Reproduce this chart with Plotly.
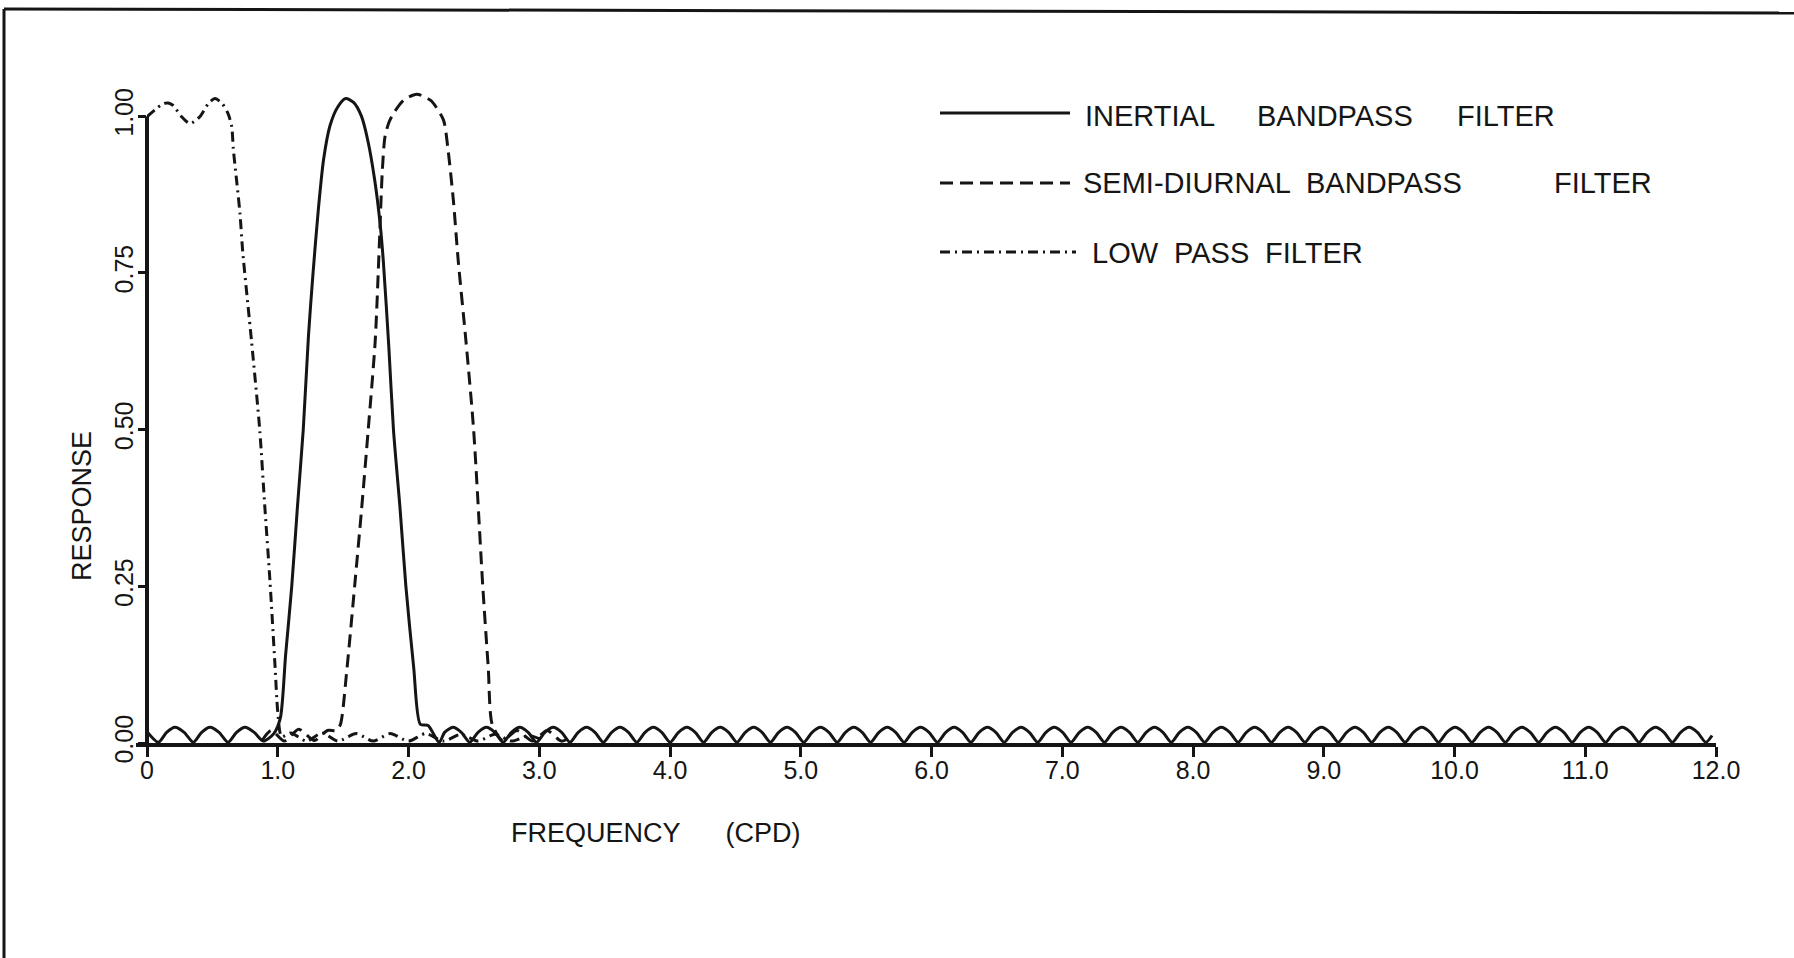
import plotly.graph_objects as go

# Filter response curves (frequency in cycles per day, response dimensionless)
inertial_freq = [
    0.0, 0.087, 0.15, 0.214, 0.284, 0.354, 0.418, 0.482, 0.551, 0.62,
    0.685, 0.75, 0.82, 0.89, 0.97, 1.02, 1.06, 1.107, 1.15, 1.195,
    1.235, 1.27, 1.31, 1.35, 1.40, 1.46, 1.52, 1.58, 1.64, 1.69,
    1.74, 1.782, 1.807, 1.85, 1.885, 1.935, 1.98, 2.04, 2.09, 2.15,
    2.235,
    2.276, 2.340, 2.404, 2.468, 2.532, 2.596, 2.660, 2.724,
    2.787, 2.851, 2.915, 2.979, 3.043, 3.107, 3.171, 3.235,
    3.298, 3.362, 3.426, 3.490, 3.554, 3.618, 3.682, 3.746,
    3.809, 3.873, 3.937, 4.001, 4.065, 4.129, 4.193, 4.257,
    4.320, 4.384, 4.448, 4.512, 4.576, 4.640, 4.704, 4.768,
    4.831, 4.895, 4.959, 5.023, 5.087, 5.151, 5.215, 5.279,
    5.342, 5.406, 5.470, 5.534, 5.598, 5.662, 5.726, 5.790,
    5.853, 5.917, 5.981, 6.045, 6.109, 6.173, 6.237, 6.301,
    6.364, 6.428, 6.492, 6.556, 6.620, 6.684, 6.748, 6.812,
    6.875, 6.939, 7.003, 7.067, 7.131, 7.195, 7.259, 7.323,
    7.386, 7.450, 7.514, 7.578, 7.642, 7.706, 7.770, 7.834,
    7.897, 7.961, 8.025, 8.089, 8.153, 8.217, 8.281, 8.345,
    8.408, 8.472, 8.536, 8.600, 8.664, 8.728, 8.792, 8.856,
    8.919, 8.983, 9.047, 9.111, 9.175, 9.239, 9.303, 9.367,
    9.430, 9.494, 9.558, 9.622, 9.686, 9.750, 9.814, 9.878,
    9.941, 10.005, 10.069, 10.133, 10.197, 10.261, 10.325, 10.389,
    10.452, 10.516, 10.580, 10.644, 10.708, 10.772, 10.836, 10.900,
    10.963, 11.027, 11.091, 11.155, 11.219, 11.283, 11.347, 11.411,
    11.474, 11.538, 11.602, 11.666, 11.730, 11.794, 11.858, 11.922,
    11.97,
]
inertial_resp = [
    0.018, 0.001, 0.017, 0.025, 0.017, 0.001, 0.017, 0.025, 0.017, 0.001,
    0.017, 0.025, 0.017, 0.003, 0.015, 0.04, 0.14, 0.25, 0.375, 0.5,
    0.65, 0.75, 0.85, 0.93, 0.985, 1.015, 1.028, 1.022, 1.0, 0.96,
    0.9, 0.83, 0.77, 0.63, 0.5, 0.375, 0.25, 0.12, 0.03, 0.028,
    0.001,
    0.017, 0.025, 0.017, 0.001, 0.017, 0.025, 0.017, 0.001,
    0.017, 0.025, 0.017, 0.001, 0.017, 0.025, 0.017, 0.001,
    0.017, 0.025, 0.017, 0.001, 0.017, 0.025, 0.017, 0.001,
    0.017, 0.025, 0.017, 0.001, 0.017, 0.025, 0.017, 0.001,
    0.017, 0.025, 0.017, 0.001, 0.017, 0.025, 0.017, 0.001,
    0.017, 0.025, 0.017, 0.001, 0.017, 0.025, 0.017, 0.001,
    0.017, 0.025, 0.017, 0.001, 0.017, 0.025, 0.017, 0.001,
    0.017, 0.025, 0.017, 0.001, 0.017, 0.025, 0.017, 0.001,
    0.017, 0.025, 0.017, 0.001, 0.017, 0.025, 0.017, 0.001,
    0.017, 0.025, 0.017, 0.001, 0.017, 0.025, 0.017, 0.001,
    0.017, 0.025, 0.017, 0.001, 0.017, 0.025, 0.017, 0.001,
    0.017, 0.025, 0.017, 0.001, 0.017, 0.025, 0.017, 0.001,
    0.017, 0.025, 0.017, 0.001, 0.017, 0.025, 0.017, 0.001,
    0.017, 0.025, 0.017, 0.001, 0.017, 0.025, 0.017, 0.001,
    0.017, 0.025, 0.017, 0.001, 0.017, 0.025, 0.017, 0.001,
    0.017, 0.025, 0.017, 0.001, 0.017, 0.025, 0.017, 0.001,
    0.017, 0.025, 0.017, 0.001, 0.017, 0.025, 0.017, 0.001,
    0.017, 0.025, 0.017, 0.001, 0.017, 0.025, 0.017, 0.001,
    0.017, 0.025, 0.017, 0.001, 0.017, 0.025, 0.017, 0.001,
    0.012,
]

semidiurnal_freq = [
    0.88, 0.95, 1.05, 1.16, 1.28, 1.38, 1.45, 1.48, 1.53, 1.588,
    1.64, 1.692, 1.745, 1.776, 1.80, 1.82, 1.85, 1.884, 1.96, 2.063,
    2.17, 2.267, 2.30, 2.343, 2.38, 2.44, 2.498, 2.568, 2.61, 2.64,
    2.72, 2.83, 2.95, 3.06, 3.17, 3.26,
]
semidiurnal_resp = [
    0.004, 0.02, 0.003, 0.022, 0.004, 0.02, 0.02, 0.03, 0.12, 0.25,
    0.37, 0.5, 0.64, 0.79, 0.914, 0.967, 0.99, 1.004, 1.025, 1.035,
    1.025, 0.994, 0.951, 0.866, 0.77, 0.64, 0.5, 0.25, 0.12, 0.03,
    0.004, 0.02, 0.003, 0.02, 0.003, 0.012,
]

lowpass_freq = [
    0.0, 0.06, 0.125, 0.163, 0.2, 0.265, 0.329, 0.404, 0.469, 0.52,
    0.575, 0.62, 0.648, 0.66, 0.685, 0.711, 0.732, 0.80, 0.862, 0.90,
    0.94, 0.98, 1.0, 1.03, 1.1, 1.22, 1.34, 1.46, 1.6, 1.73,
    1.86, 2.0, 2.13, 2.27, 2.4, 2.53, 2.66, 2.79, 2.92, 3.02,
]
lowpass_resp = [
    0.999, 1.01, 1.02, 1.021, 1.017, 0.999, 0.988, 0.999, 1.02, 1.028,
    1.02, 1.004, 0.983, 0.948, 0.898, 0.845, 0.784, 0.64, 0.5, 0.38,
    0.26, 0.12, 0.05, 0.01, 0.016, 0.003, 0.016, 0.003, 0.015, 0.003,
    0.015, 0.003, 0.015, 0.003, 0.014, 0.003, 0.014, 0.003, 0.012, 0.005,
]

x_tick_vals = [0, 1, 2, 3, 4, 5, 6, 7, 8, 9, 10, 11, 12]
x_tick_text = ["0", "1.0", "2.0", "3.0", "4.0", "5.0", "6.0", "7.0",
               "8.0", "9.0", "10.0", "11.0", "12.0"]
y_tick_vals = [0, 0.25, 0.5, 0.75, 1.0]
y_tick_text = ["0.00", "0.25", "0.50", "0.75", "1.00"]

# key labels, word by word
key_words = [
    ["INERTIAL", "BANDPASS", "FILTER"],
    ["SEMI-DIURNAL", "BANDPASS", "FILTER"],
    ["LOW", "PASS", "FILTER"],
]

INK = "#151515"
FONT = "Liberation Sans, Arial, sans-serif"
DASHED = "13px,7px"
DASHDOT = "10px,5px,2px,5px"

# Plot-area geometry in pixels
W, H = 1794, 958
ML, MR, MT, MB = 147, 78, 66, 215
PW, PH = W - ML - MR, H - MT - MB


def px(x):
    return (x - ML) / PW


def py(y):
    return (H - MB - y) / PH


fig = go.Figure()
fig.add_trace(go.Scatter(x=inertial_freq, y=inertial_resp, mode="lines",
                         line=dict(color=INK, width=3, shape="spline", smoothing=0.7),
                         name=" ".join(key_words[0]), showlegend=False))
fig.add_trace(go.Scatter(x=semidiurnal_freq, y=semidiurnal_resp, mode="lines",
                         line=dict(color=INK, width=3, dash=DASHED, shape="spline", smoothing=0.7),
                         name=" ".join(key_words[1]), showlegend=False))
fig.add_trace(go.Scatter(x=lowpass_freq, y=lowpass_resp, mode="lines",
                         line=dict(color=INK, width=3, dash=DASHDOT, shape="spline", smoothing=0.7),
                         name=" ".join(key_words[2]), showlegend=False))

shapes = []
# vertical response axis from 0 to 1, and the short stub of the base line left of 0
shapes.append(dict(type="line", xref="paper", yref="paper",
                   x0=0, x1=0, y0=0, y1=1.0 / 1.08,
                   line=dict(color=INK, width=4)))
shapes.append(dict(type="line", xref="paper", yref="paper",
                   x0=px(136), x1=0, y0=py(745), y1=py(745),
                   line=dict(color=INK, width=4)))
# frame around the figure
shapes.append(dict(type="line", xref="paper", yref="paper",
                   x0=px(4), x1=px(4), y0=py(H + 5), y1=py(9),
                   line=dict(color=INK, width=3)))
shapes.append(dict(type="line", xref="paper", yref="paper",
                   x0=px(4), x1=px(W + 5), y0=py(9), y1=py(13),
                   line=dict(color=INK, width=3)))

# key: line samples and word positions (pixels)
key_rows = [
    dict(line_y=113, text_y=116, dash="solid", x1=1070, word_x=[1083, 1255, 1455]),
    dict(line_y=183, text_y=183, dash=DASHED, x1=1070, word_x=[1081, 1304, 1552]),
    dict(line_y=252, text_y=253, dash=DASHDOT, x1=1076, word_x=[1090, 1172, 1263]),
]
annotations = []
for row, words in zip(key_rows, key_words):
    shapes.append(dict(type="line", xref="paper", yref="paper",
                       x0=px(940), x1=px(row["x1"]), y0=py(row["line_y"]), y1=py(row["line_y"]),
                       line=dict(color=INK, width=3, dash=row["dash"])))
    for wx, word in zip(row["word_x"], words):
        annotations.append(dict(xref="paper", yref="paper", x=px(wx), y=py(row["text_y"]),
                                text=word, showarrow=False, xanchor="left",
                                yanchor="middle",
                                font=dict(size=29, color=INK, family=FONT)))

annotations.append(dict(xref="paper", yref="paper", x=px(656), y=py(833),
                        text="FREQUENCY" + "\u00a0" * 6 + "(CPD)", showarrow=False,
                        xanchor="center", yanchor="middle",
                        font=dict(size=27, color=INK, family=FONT)))
annotations.append(dict(xref="paper", yref="paper", x=px(82), y=py(506),
                        text="RESPONSE", showarrow=False, textangle=-90,
                        xanchor="center", yanchor="middle",
                        font=dict(size=27, color=INK, family=FONT)))

fig.update_layout(
    width=W, height=H,
    margin=dict(l=ML, r=MR, t=MT, b=MB, pad=0),
    paper_bgcolor="white", plot_bgcolor="white",
    showlegend=False,
    shapes=shapes, annotations=annotations,
    xaxis=dict(range=[0, 12], tickvals=x_tick_vals, ticktext=x_tick_text,
               showgrid=False, zeroline=False, showline=True, linecolor=INK,
               linewidth=4, ticks="outside", ticklen=10, tickwidth=3,
               tickcolor=INK, ticklabelstandoff=-8,
               tickfont=dict(size=25, color=INK, family=FONT)),
    yaxis=dict(range=[0, 1.08], tickvals=y_tick_vals, ticktext=y_tick_text,
               showgrid=False, zeroline=False, showline=False,
               ticks="outside", ticklen=8, tickwidth=3, tickcolor=INK,
               tickangle=-90, ticklabelstandoff=-5,
               tickfont=dict(size=25, color=INK, family=FONT)),
)

fig.write_html("out.html")
